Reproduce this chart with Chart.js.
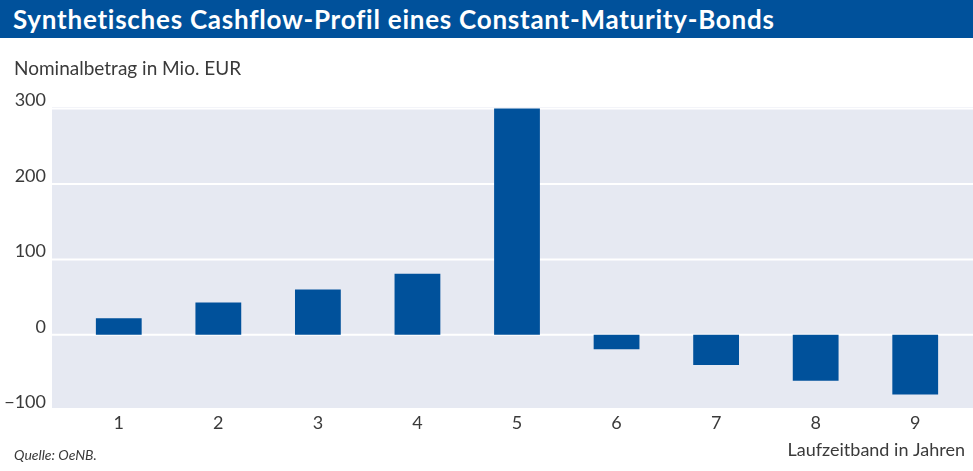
<!DOCTYPE html>
<html>
<head>
<meta charset="utf-8">
<script src="https://cdn.jsdelivr.net/npm/chart.js@4.4.1/dist/chart.umd.min.js"></script>
<style>
  html, body { margin: 0; padding: 0; background: #fff; overflow: hidden; }
  #wrap { position: relative; width: 973px; height: 471px; font-family: Lato, "Open Sans", sans-serif; color: #3a3a3a; }
  #head { position: absolute; left: 0; top: 0; width: 973px; height: 38px; background: #00519b; color: #fff;
          font-weight: bold; font-size: 26px; letter-spacing: 0.75px; line-height: 38px; padding-left: 13px;
          box-sizing: border-box; white-space: nowrap; }
  #ylab { position: absolute; left: 14px; top: 56px; font-size: 19px; white-space: nowrap; }
  #src { position: absolute; left: 14px; top: 446px; font-size: 14px; font-style: italic; white-space: nowrap; }
  canvas { position: absolute; left: 0; top: 0; }
</style>
</head>
<body>
<div id="wrap">
  <canvas id="chart" width="973" height="471"></canvas>
  <div id="head">Synthetisches Cashflow-Profil eines Constant-Maturity-Bonds</div>
  <div id="ylab">Nominalbetrag in Mio. EUR</div>
  <div id="src">Quelle: OeNB.</div>
</div>
<script>
// data
var bands = ['1', '2', '3', '4', '5', '6', '7', '8', '9'];
var amounts = [22, 43, 60, 81, 300, -19, -40, -61, -79];
var yTicks = [-100, 0, 100, 200, 300];

var textColor = '#3a3a3a';
var fontFamily = 'Lato, "Open Sans", sans-serif';

// light panel + white grid lines, a bit wider than the bar area
var panel = {
  id: 'panel',
  beforeDatasetsDraw: function(chart) {
    var ctx = chart.ctx, area = chart.chartArea, y = chart.scales.y;
    var x0 = area.left - 17, x1 = chart.width;
    ctx.save();
    ctx.fillStyle = '#e6e9f2';
    ctx.fillRect(x0, area.top, x1 - x0, area.bottom - area.top);
    ctx.strokeStyle = '#ffffff';
    ctx.lineWidth = 2;
    y.ticks.forEach(function(t) {
      var py = y.getPixelForValue(t.value);
      if (py > area.top + 1 && py < area.bottom - 1) {
        ctx.beginPath();
        ctx.moveTo(x0, py);
        ctx.lineTo(x1, py);
        ctx.stroke();
      }
    });
    ctx.restore();
  }
};

new Chart(document.getElementById('chart'), {
  type: 'bar',
  data: {
    labels: bands,
    datasets: [{
      data: amounts,
      backgroundColor: '#00519b',
      borderWidth: 0,
      barPercentage: 0.46,
      categoryPercentage: 1
    }]
  },
  options: {
    responsive: false,
    devicePixelRatio: 1,
    animation: false,
    layout: { padding: { top: 107, right: 8, left: 0, bottom: 0 } },
    plugins: { legend: { display: false }, tooltip: { enabled: false } },
    scales: {
      x: {
        grid: { display: false, drawTicks: false },
        border: { display: false },
        ticks: { color: textColor, font: { family: fontFamily, size: 18 }, padding: 4, maxRotation: 0 },
        title: {
          display: true, text: 'Laufzeitband in Jahren', align: 'end',
          color: textColor, font: { family: fontFamily, size: 18 }, padding: { top: 4, bottom: 10 }
        },
        afterFit: function(s) { s.height = 63; }
      },
      y: {
        min: -97, max: 302,
        afterBuildTicks: function(s) { s.ticks = yTicks.map(function(v) { return { value: v }; }); },
        grid: { display: false, drawTicks: false },
        border: { display: false },
        ticks: {
          color: textColor, font: { family: fontFamily, size: 18 }, padding: 23, labelOffset: -8,
          callback: function(v) { return v < 0 ? '\u2212' + Math.abs(v) : String(v); }
        },
        afterFit: function(s) { s.width = 69; }
      }
    }
  },
  plugins: [panel]
});
</script>
</body>
</html>
